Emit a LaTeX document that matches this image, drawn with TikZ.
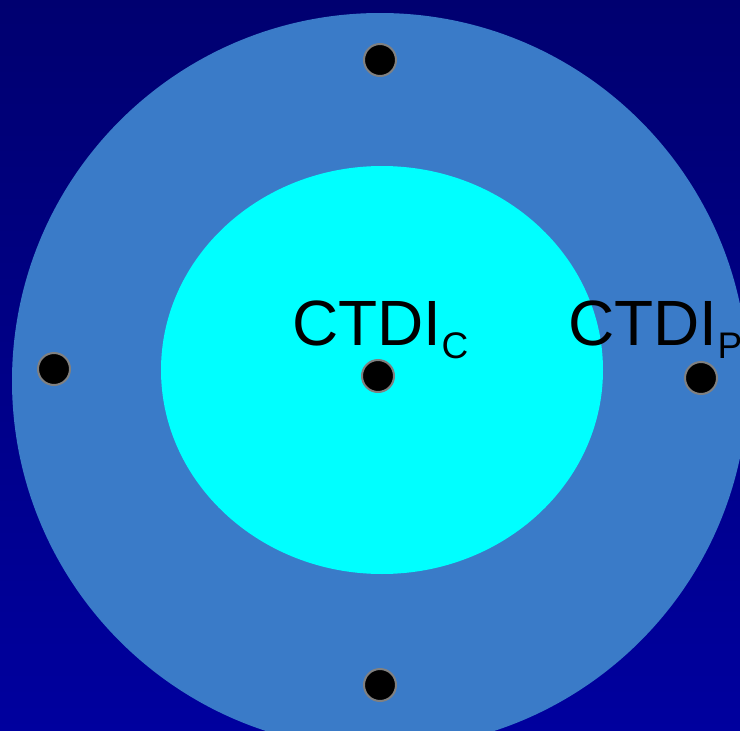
\documentclass[tikz,border=0pt]{standalone}
\usepackage{fontspec}
\setmainfont{Liberation Sans}
\definecolor{bgtop}{HTML}{000070}
\definecolor{bgbot}{HTML}{00009E}
\definecolor{phantom}{HTML}{3A7BC8}
\definecolor{core}{HTML}{00FFFF}
\definecolor{rim}{HTML}{808080}
\newcommand{\ctdi}[1]{CTDI\raisebox{-13pt}{\fontsize{37}{37}\selectfont #1}}
\begin{document}
\begin{tikzpicture}[x=1pt,y=-1pt,
  probe/.style={circle,fill=black,draw=rim,line width=2pt,minimum size=32pt,inner sep=0pt},
  label/.style={anchor=base west,inner sep=0pt,font=\fontsize{64}{64}\selectfont}]
  \useasboundingbox (0,0) rectangle (740,731);
  \clip (0,0) rectangle (740,731);
  % background
  \shade[top color=bgtop,bottom color=bgbot] (0,0) rectangle (740,731);
  % phantom body and central insert
  \fill[phantom] (380,381) circle[radius=368];
  \fill[core] (382,370) ellipse[x radius=221,y radius=204];
  % labels
  \node[label] (lc) at (292,345) {\ctdi{C}};
  \node[label] (lp) at (568,345) {\ctdi{P}};
  % probe holes
  \node[probe] (top) at (380,60) {};
  \node[probe] (left) at (54,369) {};
  \node[probe] (mid) at (378,376) {};
  \node[probe] (right) at (701,378) {};
  \node[probe] (bottom) at (380,685) {};
\end{tikzpicture}
\end{document}
